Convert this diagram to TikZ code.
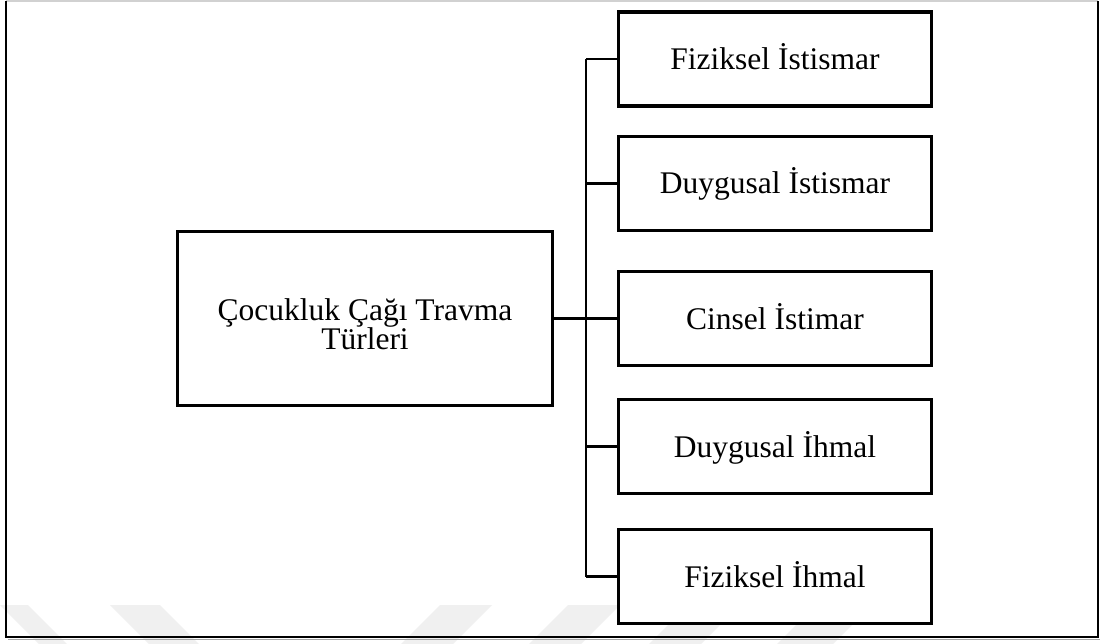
\documentclass[tikz,border=0pt]{standalone}
\usepackage{fontspec}
\setmainfont{Liberation Serif}
\begin{document}
\begin{tikzpicture}[x=1pt,y=-1pt,
  box/.style={draw=black,line width=3.2pt,fill=white,rectangle,inner sep=0pt,
    font=\fontsize{31.5}{29}\selectfont,align=center},
  leaf/.style={box,minimum width=313pt,minimum height=94pt,text height=21pt,text depth=0pt},
  conn/.style={draw=black,line width=2.8pt},
  wm/.style={fill=black!6,draw=none}]
\useasboundingbox (0,0) rectangle (1107,644);
\fill[white] (0,0) rectangle (1107,644);
% faint watermark shapes
\fill[wm] (0,605) -- (28,605) -- (67,644) -- (39,644) -- cycle;
\fill[wm] (110,605) -- (160,605) -- (199,644) -- (149,644) -- cycle;
\fill[wm] (440,605) -- (492,605) -- (453,644) -- (401,644) -- cycle;
\fill[wm] (568,605) -- (620,605) -- (581,644) -- (529,644) -- cycle;
\fill[wm] (688,605) -- (740,605) -- (701,644) -- (649,644) -- cycle;
\fill[wm] (816,605) -- (872,605) -- (833,644) -- (777,644) -- cycle;
% outer frame
\draw[black!18,line width=1.5pt] (6,1) -- (1098,1);
\draw[black,line width=2.4pt] (6,1) -- (6,637) -- (1098,637) -- (1098,1);
\draw[black!35,line width=1pt] (8,639.8) -- (1100,639.8);
% nodes
\node[box,minimum width=375pt,minimum height=174pt,text height=61pt,text depth=0pt] (main) at (365,318.5) {Çocukluk Çağı Travma\\Türleri};
\node[leaf] (b1) at (775,59) {Fiziksel İstismar};
\node[leaf] (b2) at (775,183.5) {Duygusal İstismar};
\node[leaf] (b3) at (775,318.5) {Cinsel İstimar};
\node[leaf] (b4) at (775,446.5) {Duygusal İhmal};
\node[leaf] (b5) at (775,576.5) {Fiziksel İhmal};
\coordinate (trunk) at (586,0);
% connectors
\draw[conn] (b1.west -| trunk) -- (b5.west -| trunk);
\draw[conn] (b1.west) -- (b1.west -| trunk);
\draw[conn] (b2.west) -- (b2.west -| trunk);
\draw[conn] (b3.west) -- (b3.west -| trunk);
\draw[conn] (b4.west) -- (b4.west -| trunk);
\draw[conn] (b5.west) -- (b5.west -| trunk);
\draw[conn,line width=3.4pt] (main.east) -- (main.east -| trunk);
\end{tikzpicture}
\end{document}
